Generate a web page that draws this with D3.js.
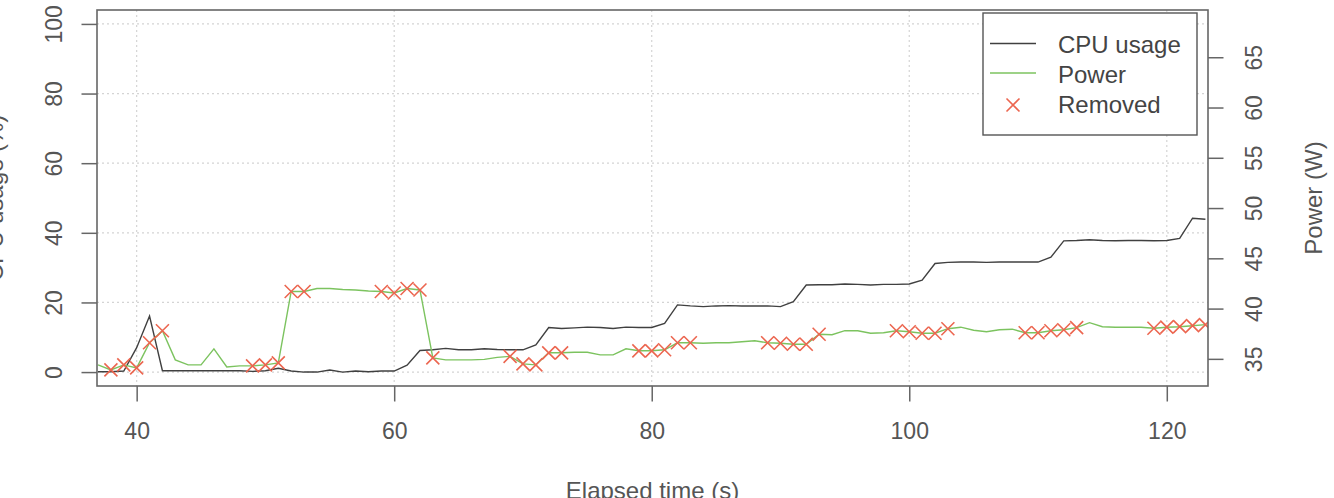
<!DOCTYPE html>
<html>
<head>
<meta charset="utf-8">
<script src="https://cdn.jsdelivr.net/npm/d3@7"></script>
<style>
  body { margin: 0; background: #fff; }
  svg { display: block; }
  text { font-family: "Liberation Sans", Arial, Helvetica, sans-serif; }
</style>
</head>
<body>
<svg id="chart" width="1334" height="498"></svg>
<script>
// elapsed time (s), one sample per second
const time = [37, 38, 39, 40, 41, 42, 43, 44, 45, 46, 47, 48, 49, 50, 51, 52, 53, 54, 55, 56,
  57, 58, 59, 60, 61, 62, 63, 64, 65, 66, 67, 68, 69, 70, 71, 72, 73, 74, 75, 76,
  77, 78, 79, 80, 81, 82, 83, 84, 85, 86, 87, 88, 89, 90, 91, 92, 93, 94, 95, 96,
  97, 98, 99, 100, 101, 102, 103, 104, 105, 106, 107, 108, 109, 110, 111, 112, 113, 114, 115, 116,
  117, 118, 119, 120, 121, 122, 123];

// CPU usage (%)
const cpu = [0.1, 0.1, 0.3, 7.0, 16.1, 0.4, 0.4, 0.4, 0.4, 0.4, 0.4, 0.4, 0.2, 0.4, 1.1, 0.3, 0.0, 0.0, 0.6, 0.0,
  0.3, 0.1, 0.3, 0.3, 2.0, 6.2, 6.4, 6.8, 6.4, 6.4, 6.7, 6.5, 6.4, 6.4, 7.8, 12.8, 12.5, 12.7, 12.9, 12.8,
  12.5, 12.9, 12.8, 12.8, 14.0, 19.3, 19.0, 18.8, 19.0, 19.1, 19.0, 19.0, 19.0, 18.8, 20.2, 25.0, 25.1, 25.1, 25.3, 25.2,
  25.0, 25.2, 25.2, 25.3, 26.4, 31.2, 31.5, 31.6, 31.6, 31.5, 31.6, 31.6, 31.6, 31.6, 33.0, 37.7, 37.8, 38.0, 37.8, 37.7,
  37.8, 37.8, 37.7, 37.8, 38.4, 44.2, 43.9];

// Power (W)
const power = [34.4, 33.9, 34.4, 34.1, 36.6, 37.8, 34.9, 34.4, 34.4, 36.0, 34.2, 34.3, 34.3, 34.4, 34.6, 41.7, 41.7, 42.0, 42.0, 41.9,
  41.85, 41.75, 41.7, 41.55, 42.0, 41.85, 35.1, 34.9, 34.9, 34.9, 34.95, 35.15, 35.25, 34.5, 34.4, 35.6, 35.6, 35.65, 35.65, 35.4,
  35.4, 36.0, 35.8, 35.8, 35.9, 36.6, 36.6, 36.55, 36.6, 36.6, 36.7, 36.8, 36.6, 36.55, 36.45, 36.45, 37.45, 37.4, 37.8, 37.8,
  37.55, 37.6, 37.8, 37.7, 37.55, 37.55, 38.0, 38.15, 37.85, 37.7, 37.9, 37.95, 37.6, 37.6, 37.8, 37.9, 38.1, 38.6, 38.2, 38.15,
  38.15, 38.15, 38.05, 38.15, 38.2, 38.3, 38.4];

// samples marked as removed
const removedTime = [38, 39, 40, 41, 42, 49, 50, 51, 52, 53, 59, 60, 61, 62, 63, 69, 70, 71, 72, 73,
  79, 80, 81, 82, 83, 89, 90, 91, 92, 93, 99, 100, 101, 102, 103, 109, 110, 111, 112, 113,
  119, 120, 121, 122, 123];

const xTicks = [40, 60, 80, 100, 120];
const cpuTicks = [0, 20, 40, 60, 80, 100];
const powerTicks = [35, 40, 45, 50, 55, 60, 65];
const legendLabels = ["CPU usage", "Power", "Removed"];

const cpuColor = "#404040";
const powerColor = "#7cc35f";
const removedColor = "#ec6650";
const axisColor = "#666";
const labelColor = "#555";

const svg = d3.select("#chart");
const plotLeft = 97, plotRight = 1208, plotTop = 10, plotBottom = 386;

const x = d3.scaleLinear().domain([36.92, 123.2]).range([plotLeft, plotRight]);
const yCpu = d3.scaleLinear().domain([-4, 104]).range([plotBottom, plotTop]);
const yPow = d3.scaleLinear().domain([32.3, 69.7]).range([plotBottom, plotTop]);

svg.append("defs").append("clipPath").attr("id", "plotClip")
  .append("rect")
  .attr("x", plotLeft).attr("y", plotTop)
  .attr("width", plotRight - plotLeft).attr("height", plotBottom - plotTop);

// dotted grid
const grid = svg.append("g");
grid.selectAll(".hgrid").data(cpuTicks).join("line")
  .attr("x1", plotLeft).attr("x2", plotRight)
  .attr("y1", d => yCpu(d)).attr("y2", d => yCpu(d))
  .attr("stroke", "#d4d4d4").attr("stroke-width", 1.2).attr("stroke-dasharray", "2,3");
grid.selectAll(".vgrid").data(xTicks).join("line")
  .attr("x1", d => x(d)).attr("x2", d => x(d))
  .attr("y1", plotTop).attr("y2", plotBottom)
  .attr("stroke", "#d4d4d4").attr("stroke-width", 1.2).attr("stroke-dasharray", "2,3");

// lines
const plot = svg.append("g").attr("clip-path", "url(#plotClip)");

const cpuLine = d3.line()
  .x((d, i) => x(time[i]))
  .y(d => yCpu(d));
const powLine = d3.line()
  .x((d, i) => x(time[i]))
  .y(d => yPow(d));

plot.append("path")
  .attr("d", cpuLine(cpu))
  .attr("fill", "none").attr("stroke", cpuColor).attr("stroke-width", 1.4);

plot.append("path")
  .attr("d", powLine(power))
  .attr("fill", "none").attr("stroke", powerColor).attr("stroke-width", 1.4);

// removed points as crosses on the power line
const removed = removedTime.map(t => [t, power[time.indexOf(t)]]);
const cross = "M-6.5,-6.5L6.5,6.5M-6.5,6.5L6.5,-6.5";
plot.selectAll(".removed").data(removed).join("path")
  .attr("transform", d => `translate(${x(d[0])},${yPow(d[1])})`)
  .attr("d", cross)
  .attr("fill", "none").attr("stroke", removedColor).attr("stroke-width", 1.6);

// box
svg.append("rect")
  .attr("x", plotLeft).attr("y", plotTop)
  .attr("width", plotRight - plotLeft).attr("height", plotBottom - plotTop)
  .attr("fill", "none").attr("stroke", axisColor).attr("stroke-width", 1.6);

function styleAxis(g) {
  g.select(".domain").remove();
  g.selectAll(".tick line").attr("stroke", axisColor).attr("stroke-width", 1.5);
  g.selectAll(".tick text").attr("fill", labelColor).style("font-size", "23px")
    .style("font-family", "'Liberation Sans', Arial, sans-serif");
}

// bottom axis
svg.append("g")
  .attr("transform", `translate(0,${plotBottom})`)
  .call(d3.axisBottom(x).tickValues(xTicks).tickSize(15.5).tickFormat(d3.format("d")))
  .call(styleAxis)
  .call(g => g.selectAll(".tick text").attr("dy", null).attr("y", 53));

// left axis
svg.append("g")
  .attr("transform", `translate(${plotLeft},0)`)
  .call(d3.axisLeft(yCpu).tickValues(cpuTicks).tickSize(15.5).tickFormat(d3.format("d")))
  .call(styleAxis)
  .call(g => g.selectAll(".tick text")
    .attr("x", null).attr("dy", null)
    .attr("text-anchor", "middle")
    .attr("transform", "translate(-35,0) rotate(-90)"));

// right axis
svg.append("g")
  .attr("transform", `translate(${plotRight},0)`)
  .call(d3.axisRight(yPow).tickValues(powerTicks).tickSize(15.5).tickFormat(d3.format("d")))
  .call(styleAxis)
  .call(g => g.selectAll(".tick text")
    .attr("x", null).attr("dy", null)
    .attr("text-anchor", "middle")
    .attr("transform", "translate(54,0) rotate(-90)"));

// axis titles
const midY = (plotTop + plotBottom) / 2;
svg.append("text")
  .attr("transform", `translate(3,${midY}) rotate(-90)`)
  .attr("text-anchor", "middle").attr("fill", labelColor).style("font-size", "24px")
  .text("CPU usage (%)");
svg.append("text")
  .attr("transform", `translate(1322,${midY}) rotate(-90)`)
  .attr("text-anchor", "middle").attr("fill", labelColor).style("font-size", "24px")
  .text("Power (W)");
svg.append("text")
  .attr("x", (plotLeft + plotRight) / 2).attr("y", 499)
  .attr("text-anchor", "middle").attr("fill", labelColor).style("font-size", "24px")
  .text("Elapsed time (s)");

// legend
const legend = svg.append("g").attr("transform", "translate(983,13)");
legend.append("rect")
  .attr("width", 214).attr("height", 122)
  .attr("fill", "#fff").attr("stroke", "#555").attr("stroke-width", 1.4);
const rowY = [30.5, 60, 91];
legend.append("line")
  .attr("x1", 7).attr("x2", 53).attr("y1", rowY[0]).attr("y2", rowY[0])
  .attr("stroke", cpuColor).attr("stroke-width", 1.4);
legend.append("line")
  .attr("x1", 7).attr("x2", 53).attr("y1", rowY[1]).attr("y2", rowY[1])
  .attr("stroke", powerColor).attr("stroke-width", 1.4);
legend.append("path")
  .attr("transform", `translate(30,${rowY[2] + 1})`)
  .attr("d", cross)
  .attr("fill", "none").attr("stroke", removedColor).attr("stroke-width", 1.6);
legend.selectAll(".label").data(legendLabels).join("text")
  .attr("x", 75).attr("y", (d, i) => 39.7 + i * 30)
  .attr("fill", "#444").style("font-size", "24px")
  .text(d => d);
</script>
</body>
</html>
